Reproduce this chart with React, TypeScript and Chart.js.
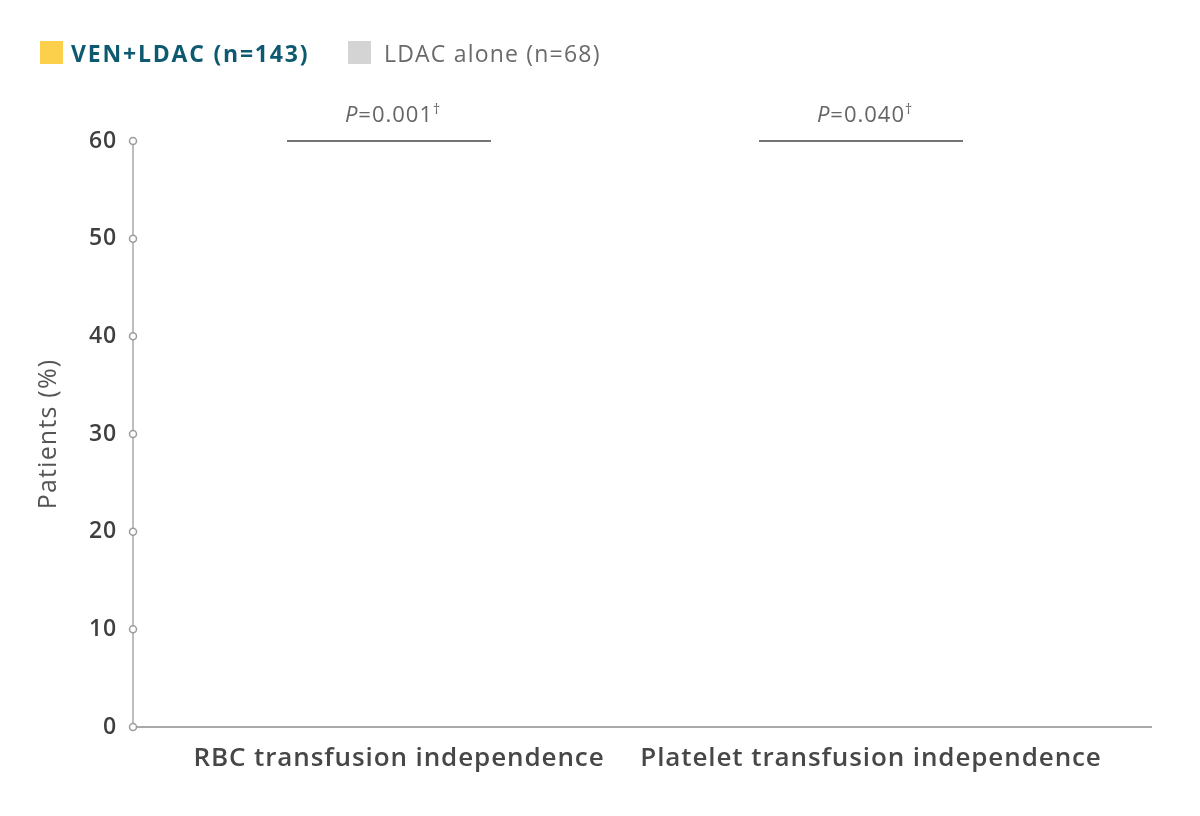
import React, { useEffect, useRef } from "react";
import { Chart, registerables } from "chart.js";

Chart.register(...registerables);

const categories = ["RBC transfusion independence", "Platelet transfusion independence"];
const seriesNames = ["VEN+LDAC (n=143)", "LDAC alone (n=68)"];
// bars are not visible in the reference (zero height)
const venLdac = [0, 0];
const ldacAlone = [0, 0];
const pValues = ["0.001", "0.040"];
const yTicks = [0, 10, 20, 30, 40, 50, 60];

const FONT = "'Open Sans', 'Noto Sans', sans-serif";
const YELLOW = "#fdd04c";
const GREY = "#d4d4d4";
const AXIS_X = 133;

const spacing = {
  id: "spacing",
  beforeDraw(chart: any) {
    chart.ctx.letterSpacing = "0.9px";
  },
};

const overlay = {
  id: "overlay",
  afterDraw(chart: any) {
    const { ctx, chartArea, scales } = chart;
    const x = scales.x;
    const y = scales.y;
    ctx.save();

    // axis lines
    ctx.strokeStyle = "#a9a9a9";
    ctx.lineWidth = 2;
    ctx.beginPath();
    ctx.moveTo(AXIS_X, chartArea.bottom);
    ctx.lineTo(1152, chartArea.bottom);
    ctx.stroke();
    ctx.lineWidth = 1.5;
    ctx.beginPath();
    ctx.moveTo(AXIS_X, chartArea.top);
    ctx.lineTo(AXIS_X, chartArea.bottom);
    ctx.stroke();

    // hollow circles on the y ticks
    yTicks.forEach((v) => {
      const py = y.getPixelForValue(v);
      ctx.beginPath();
      ctx.arc(AXIS_X, py, 3.5, 0, Math.PI * 2);
      ctx.fillStyle = "#fff";
      ctx.fill();
      ctx.lineWidth = 1.5;
      ctx.strokeStyle = "#9c9c9c";
      ctx.stroke();
    });

    // y axis title
    ctx.save();
    ctx.translate(49, (chartArea.top + chartArea.bottom) / 2);
    ctx.rotate(-Math.PI / 2);
    ctx.letterSpacing = "1.2px";
    ctx.font = `500 25px ${FONT}`;
    ctx.fillStyle = "#555";
    ctx.textAlign = "center";
    ctx.textBaseline = "middle";
    ctx.fillText("Patients (%)", 0, 0);
    ctx.restore();

    // legend
    ctx.textBaseline = "alphabetic";
    ctx.textAlign = "left";
    ctx.fillStyle = YELLOW;
    ctx.fillRect(40, 41, 23, 23);
    ctx.letterSpacing = "1.8px";
    ctx.font = `bold 23px ${FONT}`;
    ctx.fillStyle = "#0d5a70";
    ctx.fillText(seriesNames[0], 71, 62);
    ctx.fillStyle = GREY;
    ctx.fillRect(348, 41, 23, 23);
    ctx.letterSpacing = "1.2px";
    ctx.font = `23px ${FONT}`;
    ctx.fillStyle = "#6a6a6a";
    ctx.fillText(seriesNames[1], 384, 62);

    // P-value brackets
    ctx.letterSpacing = "1px";
    categories.forEach((_, i) => {
      const cx = x.getPixelForValue(i);
      ctx.strokeStyle = "#444";
      ctx.lineWidth = 1.5;
      ctx.beginPath();
      ctx.moveTo(cx - 102, chartArea.top);
      ctx.lineTo(cx + 102, chartArea.top);
      ctx.stroke();

      const italic = `italic 22px ${FONT}`;
      const regular = `22px ${FONT}`;
      const small = `14px ${FONT}`;
      const rest = "=" + pValues[i];
      ctx.font = italic;
      const wP = ctx.measureText("P").width;
      ctx.font = regular;
      const wR = ctx.measureText(rest).width;
      ctx.font = small;
      const wD = ctx.measureText("†").width;
      let sx = cx + 4 - (wP + wR + wD) / 2;
      const by = 122;
      ctx.fillStyle = "#666";
      ctx.font = italic;
      ctx.fillText("P", sx, by);
      sx += wP;
      ctx.font = regular;
      ctx.fillText(rest, sx, by);
      sx += wR;
      ctx.font = small;
      ctx.fillText("†", sx, by - 8);
    });

    ctx.restore();
  },
};

export default function App() {
  const canvasRef = useRef<HTMLCanvasElement>(null);

  useEffect(() => {
    document.body.style.margin = "0";
    let chartInstance: Chart | null = null;
    if (canvasRef.current) {
      chartInstance = new Chart(canvasRef.current, {
        type: "bar",
        data: {
          labels: categories,
          datasets: [
            { label: seriesNames[0], data: venLdac, backgroundColor: YELLOW, borderWidth: 0 },
            { label: seriesNames[1], data: ldacAlone, backgroundColor: GREY, borderWidth: 0 },
          ],
        },
        options: {
          animation: false,
          responsive: true,
          maintainAspectRatio: false,
          layout: { padding: { top: 141, right: 103, left: 0, bottom: 0 } },
          plugins: {
            legend: { display: false },
            tooltip: { enabled: false },
          },
          scales: {
            x: {
              grid: { display: false, drawTicks: false },
              border: { display: false },
              ticks: {
                color: "#474747",
                font: { family: FONT, size: 26, weight: 600 },
                padding: 16,
                labelOffset: 10,
                maxRotation: 0,
                autoSkip: false,
              },
              afterFit: (s: any) => {
                s.height = 89;
              },
            },
            y: {
              min: 0,
              max: 60,
              grid: { display: false, drawTicks: false },
              border: { display: false },
              ticks: {
                stepSize: 10,
                color: "#3f3f3f",
                font: { family: FONT, size: 23, weight: 600 },
                padding: 36,
              },
              afterFit: (s: any) => {
                s.width = 153;
              },
            },
          },
        },
        plugins: [spacing, overlay],
      });
    }
    return () => {
      if (chartInstance) chartInstance.destroy();
    };
  }, []);

  return (
    <div style={{ width: 1200, height: 816, position: "relative" }}>
      <canvas ref={canvasRef} />
    </div>
  );
}
